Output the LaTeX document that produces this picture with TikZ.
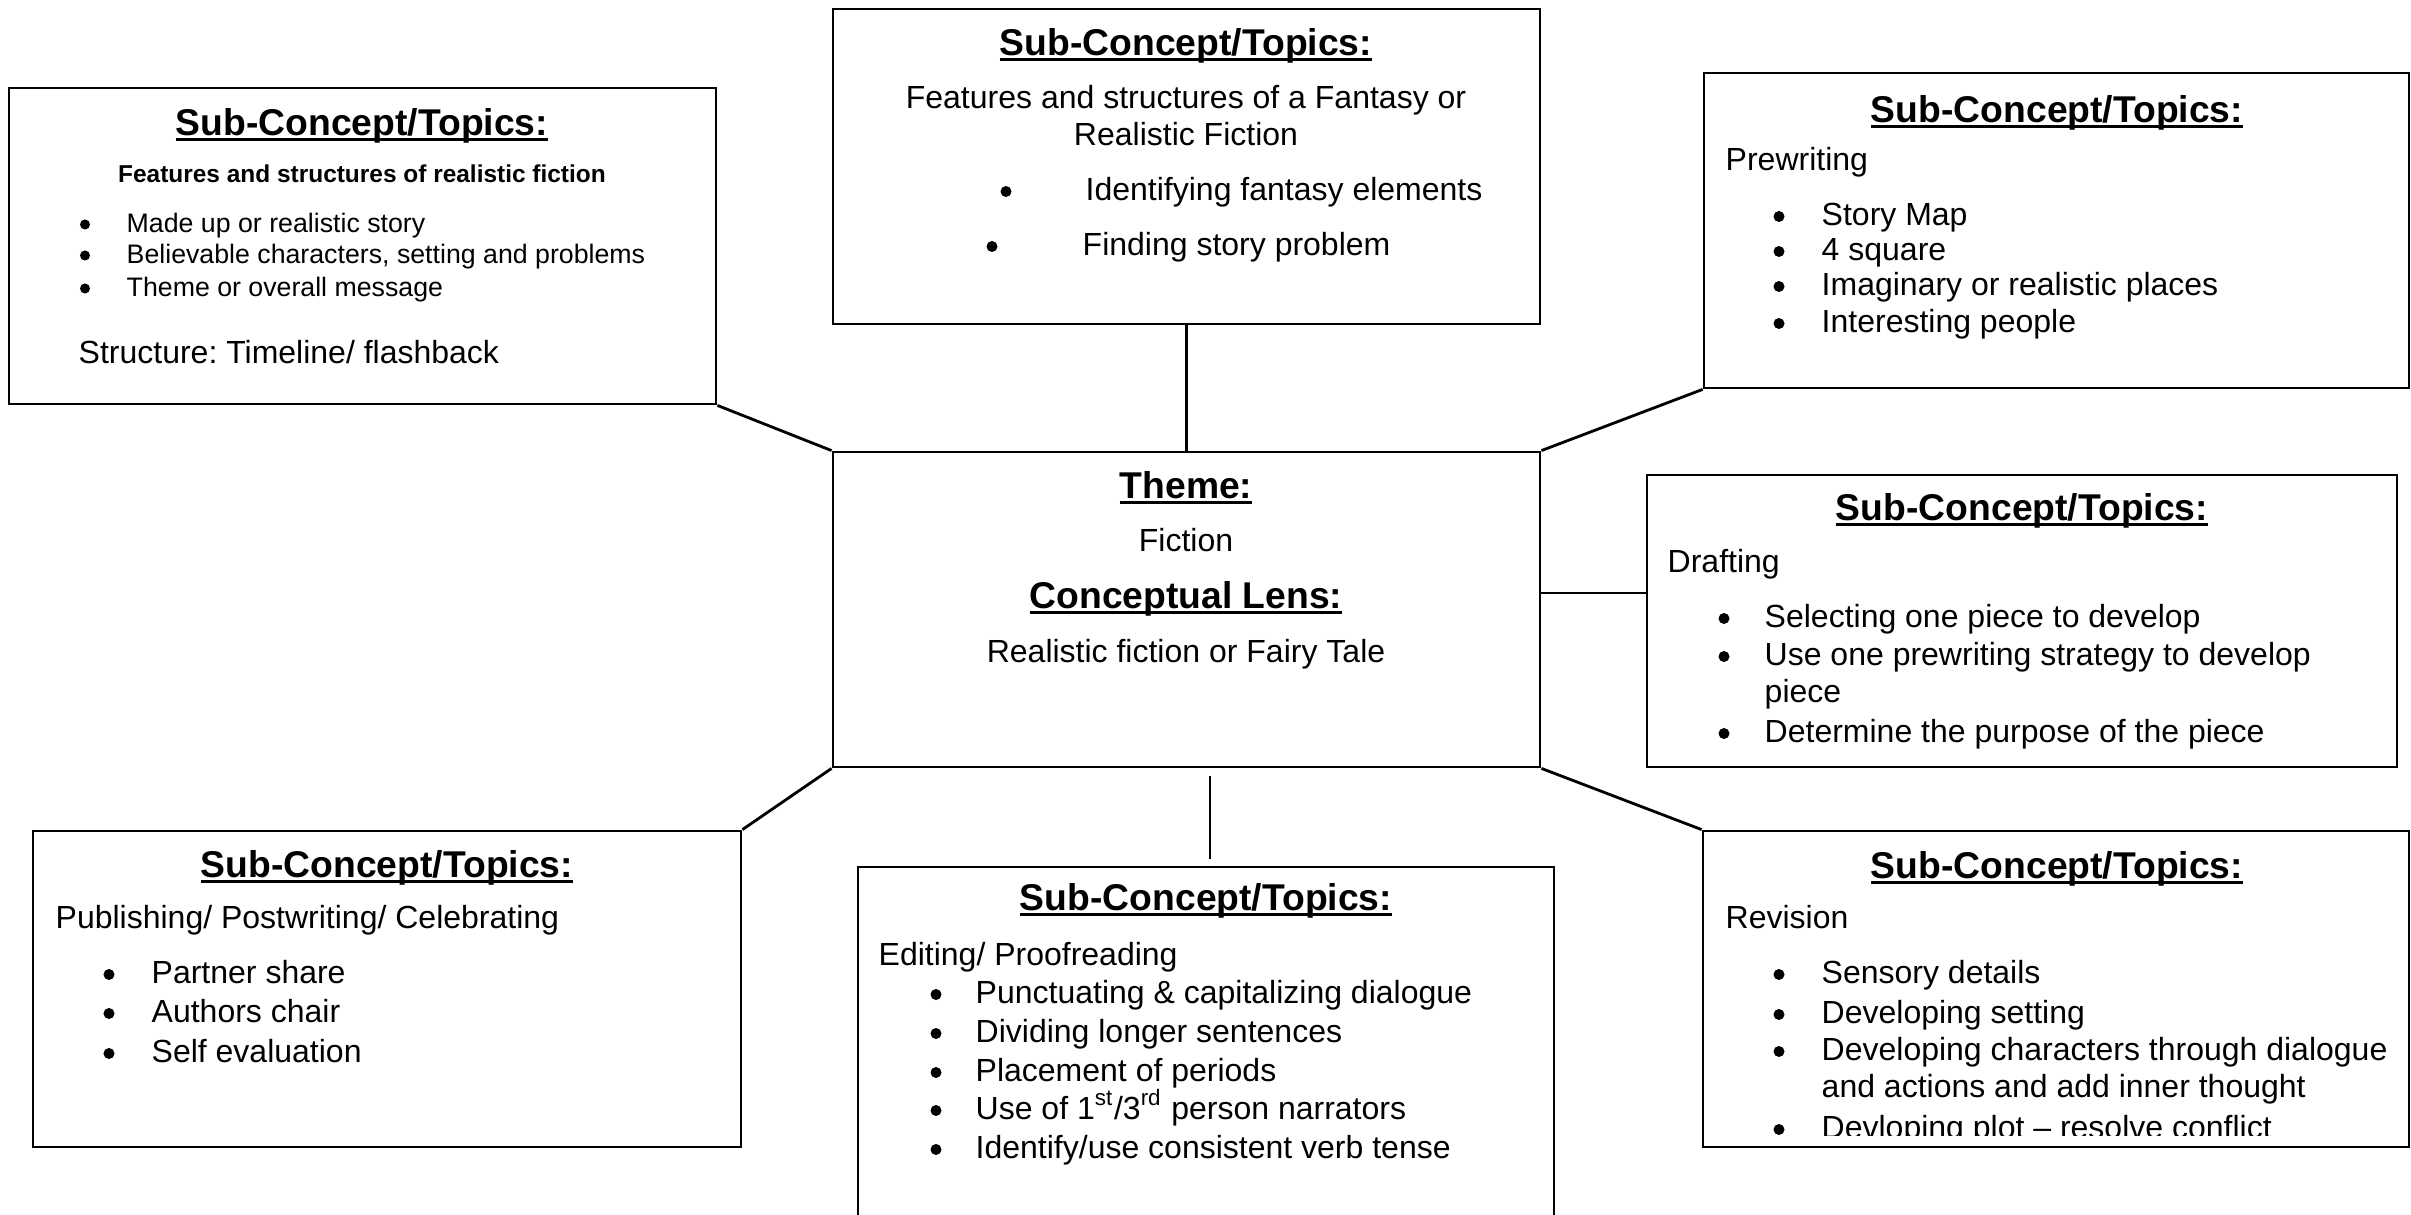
\documentclass[tikz,border=0pt]{standalone}
\usepackage{fontspec}
\setmainfont{Liberation Sans}
\usetikzlibrary{fit,calc}
\frenchspacing
% heading underline: a rule under the whole word group, through the descenders
\newcommand\ulh[1]{\setbox0=\hbox{#1}\rlap{\rule[-0.16em]{\wd0}{0.07em}}\box0}
\begin{document}
\begin{tikzpicture}[x=0.01cm,y=-0.01cm,
  frame/.style={draw, line width=0.8pt, inner sep=0pt},
  thinframe/.style={draw, line width=0.4pt, inner sep=0pt},
  link/.style={line width=0.8pt},
  thinlink/.style={line width=0.4pt},
  hd/.style={font=\bfseries\fontsize{10.6pt}{12pt}\selectfont, anchor=base, inner sep=0pt},
  bd/.style={font=\fontsize{9.1pt}{11pt}\selectfont, anchor=base west, inner sep=0pt},
  bdc/.style={bd, anchor=base},
  sm/.style={font=\fontsize{7.6pt}{9pt}\selectfont, anchor=base west, inner sep=0pt},
  smb/.style={font=\bfseries\fontsize{6.95pt}{8pt}\selectfont, anchor=base, inner sep=0pt},
  % list bullets, centred a little above each line's baseline
  dotmark/.style={circle, fill, inner sep=0pt, minimum size=0.11cm, yshift=0.085cm},
  smdotmark/.style={dotmark, minimum size=0.1cm, yshift=-0.01cm}
]
\useasboundingbox (0,0) rectangle (2411,1215);
\clip (0,0) rectangle (2411,1215);

% boxes
\node[frame, fit={(9,88) (716,404)}] (tl) {};
\node[frame, fit={(833,9) (1540,324)}] (tc) {};
\node[frame, fit={(1704,73) (2409,388)}] (tr) {};
\node[frame, fit={(833,452) (1540,767)}] (ctr) {};
\node[thinframe, fit={(1647,475) (2397,767)}] (dr) {};
\node[frame, fit={(33,831) (741,1147)}] (bl) {};
\node[thinframe, fit={(858,867) (1554,1270)}] (ed) {};
\node[frame, fit={(1703,831) (2409,1147)}] (br) {};

% connectors
\draw[link] (tl.south east) -- (ctr.north west);
\draw[link] (tc.south) -- (ctr.north);
\draw[link] (tr.south west) -- (ctr.north east);
\draw[link] (bl.north east) -- (ctr.south west);
\draw[link] (br.north west) -- (ctr.south east);
\coordinate (drin) at (1647,593);
\draw[thinlink] (ctr.east |- drin) -- (drin);
\coordinate (edtop) at (1210,859);
\draw[thinlink] (edtop |- 0,776) -- (edtop);

% realistic fiction box
\node[hd] (tlh) at (362,135) {\ulh{Sub-Concept/Topics:}};
\node[smb] (tls) at (362,182) {Features and structures of realistic fiction};
\foreach \y/\t [count=\i] in {232/{Made up or realistic story}, 263/{Believable characters, setting and problems}, 296/{Theme or overall message}}{
  \node[smdotmark] (tlb\i) at (85,\y) {};
  \node[sm] (tli\i) at (126,\y) {\t};
}
\node[bd] (tlx) at (78,363) {Structure: Timeline/ flashback};

% fantasy box
\node[hd] (tch) at (1186,55) {\ulh{Sub-Concept/Topics:}};
\node[bdc] (tc1) at (1186,108) {Features and structures of a Fantasy or};
\node[bdc] (tc2) at (1186,145) {Realistic Fiction};
\node[dotmark] (tcb1) at (1006,200) {};
\node[bd] (tci1) at (1085,200) {Identifying fantasy elements};
\node[dotmark] (tcb2) at (992,255) {};
\node[bd] (tci2) at (1082,255) {Finding story problem};

% prewriting box
\node[hd] (trh) at (2057,122) {\ulh{Sub-Concept/Topics:}};
\node[bd] (trs) at (1725,170) {Prewriting};
\foreach \y/\t [count=\i] in {225/{Story Map}, 260/{4 square}, 295/{Imaginary or realistic places}, 332/{Interesting people}}{
  \node[dotmark] (trb\i) at (1779,\y) {};
  \node[bd] (tri\i) at (1821,\y) {\t};
}

% theme box
\node[hd] (cth) at (1186,498) {\ulh{Theme:}};
\node[bdc] (ctt) at (1186,551) {Fiction};
\node[hd] (ctl) at (1186,608) {\ulh{Conceptual Lens:}};
\node[bdc] (ctlt) at (1186,662) {Realistic fiction or Fairy Tale};

% drafting box
\node[hd] (drh) at (2022,520) {\ulh{Sub-Concept/Topics:}};
\node[bd] (drs) at (1667,572) {Drafting};
\foreach \y/\t [count=\i] in {627/{Selecting one piece to develop}, 665/{Use one prewriting strategy to develop}, 742/{Determine the purpose of the piece}}{
  \node[dotmark] (drb\i) at (1724,\y) {};
  \node[bd] (dri\i) at (1764,\y) {\t};
}
\node[bd] (drc) at (1764,702) {piece};

% publishing box
\node[hd] (blh) at (387,877) {\ulh{Sub-Concept/Topics:}};
\node[bd] (bls) at (55,928) {Publishing/ Postwriting/ Celebrating};
\foreach \y/\t [count=\i] in {983/{Partner share}, 1022/{Authors chair}, 1062/{Self evaluation}}{
  \node[dotmark] (blb\i) at (109,\y) {};
  \node[bd] (bli\i) at (151,\y) {\t};
}

% editing box
\node[hd] (edh) at (1206,910) {\ulh{Sub-Concept/Topics:}};
\node[bd] (eds) at (878,965) {Editing/ Proofreading};
\foreach \y/\t [count=\i] in {1003/{Punctuating \& capitalizing dialogue}, 1042/{Dividing longer sentences}, 1081/{Placement of periods}, 1119/{Use of 1\textsuperscript{st}/3\textsuperscript{rd} person narrators}, 1158/{Identify/use consistent verb tense}}{
  \node[dotmark] (edb\i) at (936,\y) {};
  \node[bd] (edi\i) at (975,\y) {\t};
}

% revision box, last line cut off by the frame
\node[hd] (brh) at (2057,878) {\ulh{Sub-Concept/Topics:}};
\node[bd] (brs) at (1725,928) {Revision};
\begin{scope}
\clip (1703,831) rectangle (2409,1135);
\foreach \y/\t [count=\i] in {983/{Sensory details}, 1023/{Developing setting}, 1060/{Developing characters through dialogue}, 1138/{Devloping plot \textendash{} resolve conflict}}{
  \node[dotmark] (brb\i) at (1779,\y) {};
  \node[bd] (bri\i) at (1821,\y) {\t};
}
\node[bd] (brc) at (1821,1097) {and actions and add inner thought};
\end{scope}
\end{tikzpicture}
\end{document}
